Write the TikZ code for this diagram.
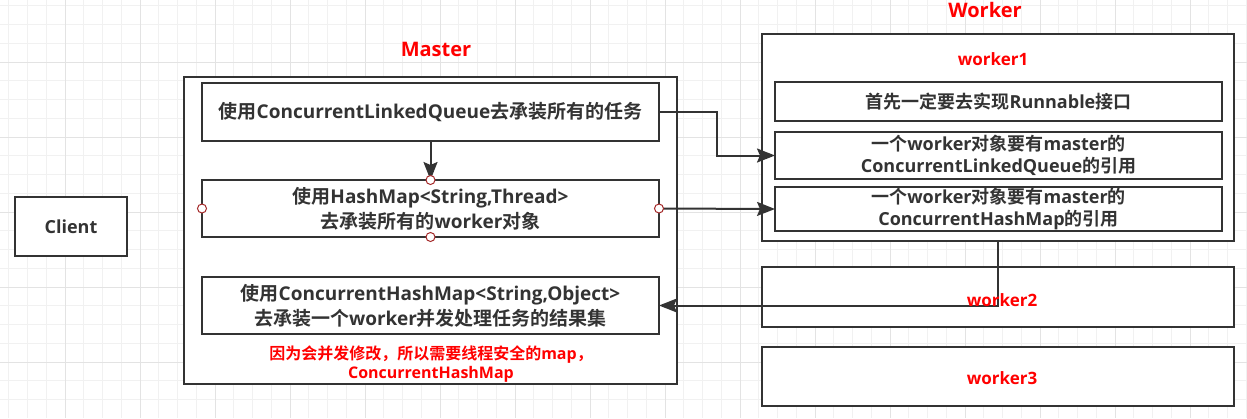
\documentclass[tikz,border=0pt]{standalone}
\usepackage{fontspec}
\setmainfont{Open Sans}
\newfontfamily\zhfont{Noto Sans CJK SC}[BoldFont={Noto Sans CJK SC Bold}]
\newcommand{\zh}[1]{{\zhfont #1}}
\usetikzlibrary{positioning,arrows.meta}
\definecolor{linegray}{HTML}{333333}
\definecolor{txtgray}{HTML}{333333}
\definecolor{gridminor}{HTML}{F1F1F1}
\definecolor{gridmajor}{HTML}{E3E3E3}
\definecolor{pinred}{HTML}{A52A2A}

\begin{document}
\begin{tikzpicture}[x=1pt,y=-1pt,every node/.style={text=txtgray},
box/.style={draw=linegray, line width=2.2pt, fill=white, align=center, inner sep=0pt, outer sep=0pt, font=\bfseries\fontsize{19}{25}\selectfont},
wbox/.style={box, font=\bfseries\fontsize{18}{22}\selectfont},
conn/.style={draw=linegray, line width=2pt, -{Stealth[length=18pt,width=14pt,inset=3pt]}},
pin/.style={circle, draw=pinred, fill=white, line width=1pt, minimum size=9pt, inner sep=0pt},
title/.style={text=red, font=\bfseries\fontsize{20}{24}\selectfont},
wtitle/.style={text=red, font=\bfseries\fontsize{17}{20}\selectfont}]
\useasboundingbox (0,0) rectangle (1247,418);
% background grid
\foreach \i in {0,...,66} \draw[gridminor, line width=1pt] ({8.75+18.75*\i},0) -- ++(0,418);
\foreach \j in {0,...,21} \draw[gridminor, line width=1pt] (0,{5.75+18.75*\j}) -- ++(1247,0);
\foreach \i in {0,...,16} \draw[gridmajor, line width=1pt] ({65+75*\i},0) -- ++(0,418);
\foreach \j in {0,...,4} \draw[gridmajor, line width=1pt] (0,{62+75*\j}) -- ++(1247,0);

% client
\node[box, minimum width=112pt, minimum height=59pt, font=\bfseries\fontsize{18}{22}\selectfont] (client) at (71,226.5) {Client};

% master
\node[title] (mastertitle) at (436,49) {Master};
\node[box, minimum width=493pt, minimum height=307pt] (master) at (430.5,230.5) {};
\node[box, minimum width=457pt, minimum height=58pt] (A) at (430.5,112) {\zh{使用}ConcurrentLinkedQueue\zh{去承装所有的任务}};
\node[box, minimum width=457pt, minimum height=57pt, below=39pt of A] (B) {\zh{使用}HashMap<String,Thread>\\\zh{去承装所有的}worker\zh{对象}};
\node[box, minimum width=457pt, minimum height=57pt, below=40pt of B] (C) {\zh{使用}ConcurrentHashMap<String,Object>\\\zh{去承装一个}worker\zh{并发处理任务的结果集}};
\node[text=red, align=center, font=\bfseries\fontsize{16}{19}\selectfont] (note) at (431,364) {\zh{因为会并发修改，所以需要线程安全的}map\zh{，}\\ConcurrentHashMap};

% workers
\node[title] (workertitle) at (985,10) {Worker};
\node[box, minimum width=472pt, minimum height=207pt] (w1) at (998,137.5) {};
\node[wtitle] (w1title) at (993,59) {worker1};
\node[wbox, minimum width=447pt, minimum height=39pt] (R1) at (998.5,101.5) {\zh{首先一定要去实现}Runnable\zh{接口}};
\node[wbox, minimum width=447pt, minimum height=47pt, below=11pt of R1] (R2) {\zh{一个}worker\zh{对象要有}master\zh{的}\\ConcurrentLinkedQueue\zh{的引用}};
\node[wbox, minimum width=447pt, minimum height=44pt, below=8pt of R2] (R3) {\zh{一个}worker\zh{对象要有}master\zh{的}\\ConcurrentHashMap\zh{的引用}};
\node[box, minimum width=472pt, minimum height=60pt, below=26pt of w1] (w2) {};
\node[box, minimum width=472pt, minimum height=59pt, below=20pt of w2] (w3) {};

% connectors
\draw[conn] (A) -- (B);
\draw[conn] (A.east) -- ++(58,0) |- (R2.west);
\draw[conn] (B.east) -- (R3.west);
\draw[conn] (w1.south) |- (C.east);
\foreach \a in {north,south,east,west} \node[pin] (pin-\a) at (B.\a) {};

\node[wtitle] (w2title) at (1002,300) {worker2};
\node[wtitle] (w3title) at (1002,378) {worker3};
\end{tikzpicture}
\end{document}
